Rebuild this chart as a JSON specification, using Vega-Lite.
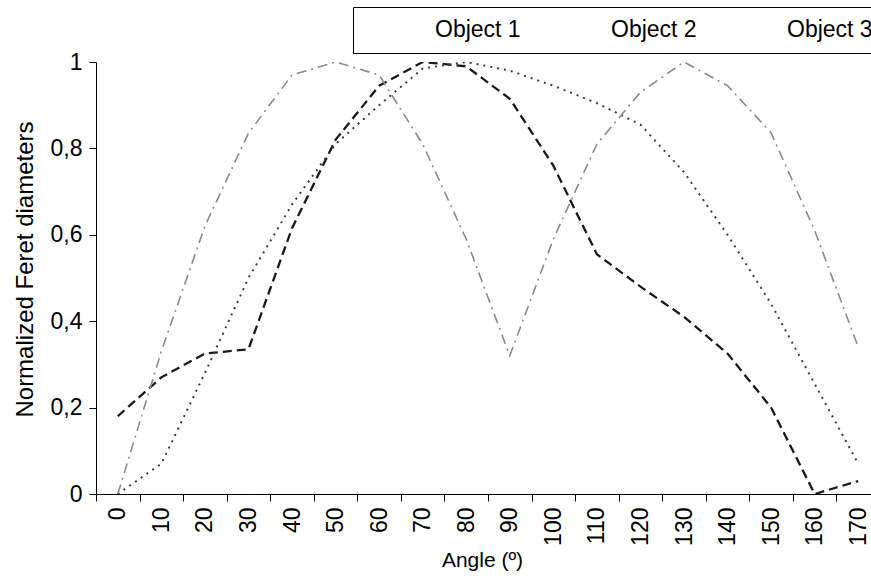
{
  "$schema": "https://vega.github.io/schema/vega-lite/v6.json",
  "autosize": {"type": "none"},
  "width": 775,
  "height": 432,
  "padding": {"left": 96, "top": 62, "right": 0, "bottom": 90},
  "background": "white",
  "config": {
    "view": {"stroke": null},
    "font": "Liberation Sans",
    "axis": {
      "labelFont": "Liberation Sans",
      "titleFont": "Liberation Sans",
      "labelFontSize": 23,
      "titleFontSize": 23,
      "titleFontWeight": "normal",
      "labelColor": "#000",
      "titleColor": "#000",
      "domainColor": "#000",
      "tickColor": "#000",
      "tickSize": 7,
      "grid": false
    },
    "legend": {
      "labelFont": "Liberation Sans",
      "labelFontSize": 23,
      "labelColor": "#000"
    }
  },
  "data": {
    "values": [
      {"angle": 0, "series": "Object 1", "value": 0.18},
      {"angle": 10, "series": "Object 1", "value": 0.27},
      {"angle": 20, "series": "Object 1", "value": 0.325},
      {"angle": 30, "series": "Object 1", "value": 0.335},
      {"angle": 40, "series": "Object 1", "value": 0.615},
      {"angle": 50, "series": "Object 1", "value": 0.82},
      {"angle": 60, "series": "Object 1", "value": 0.945},
      {"angle": 70, "series": "Object 1", "value": 1.0},
      {"angle": 80, "series": "Object 1", "value": 0.99},
      {"angle": 90, "series": "Object 1", "value": 0.915},
      {"angle": 100, "series": "Object 1", "value": 0.76},
      {"angle": 110, "series": "Object 1", "value": 0.555},
      {"angle": 120, "series": "Object 1", "value": 0.48},
      {"angle": 130, "series": "Object 1", "value": 0.41},
      {"angle": 140, "series": "Object 1", "value": 0.325},
      {"angle": 150, "series": "Object 1", "value": 0.2},
      {"angle": 160, "series": "Object 1", "value": 0.0},
      {"angle": 170, "series": "Object 1", "value": 0.03},
      {"angle": 0, "series": "Object 2", "value": 0.0},
      {"angle": 10, "series": "Object 2", "value": 0.07},
      {"angle": 20, "series": "Object 2", "value": 0.28},
      {"angle": 30, "series": "Object 2", "value": 0.5},
      {"angle": 40, "series": "Object 2", "value": 0.67},
      {"angle": 50, "series": "Object 2", "value": 0.81},
      {"angle": 60, "series": "Object 2", "value": 0.9},
      {"angle": 70, "series": "Object 2", "value": 0.985},
      {"angle": 80, "series": "Object 2", "value": 1.0},
      {"angle": 90, "series": "Object 2", "value": 0.98},
      {"angle": 100, "series": "Object 2", "value": 0.945},
      {"angle": 110, "series": "Object 2", "value": 0.905},
      {"angle": 120, "series": "Object 2", "value": 0.855},
      {"angle": 130, "series": "Object 2", "value": 0.745},
      {"angle": 140, "series": "Object 2", "value": 0.6},
      {"angle": 150, "series": "Object 2", "value": 0.44},
      {"angle": 160, "series": "Object 2", "value": 0.255},
      {"angle": 170, "series": "Object 2", "value": 0.07},
      {"angle": 0, "series": "Object 3", "value": 0.0},
      {"angle": 10, "series": "Object 3", "value": 0.33},
      {"angle": 20, "series": "Object 3", "value": 0.62},
      {"angle": 30, "series": "Object 3", "value": 0.835},
      {"angle": 40, "series": "Object 3", "value": 0.97},
      {"angle": 50, "series": "Object 3", "value": 1.0},
      {"angle": 60, "series": "Object 3", "value": 0.97},
      {"angle": 70, "series": "Object 3", "value": 0.81},
      {"angle": 80, "series": "Object 3", "value": 0.59},
      {"angle": 90, "series": "Object 3", "value": 0.32},
      {"angle": 100, "series": "Object 3", "value": 0.59},
      {"angle": 110, "series": "Object 3", "value": 0.81},
      {"angle": 120, "series": "Object 3", "value": 0.93},
      {"angle": 130, "series": "Object 3", "value": 1.0},
      {"angle": 140, "series": "Object 3", "value": 0.945},
      {"angle": 150, "series": "Object 3", "value": 0.836},
      {"angle": 160, "series": "Object 3", "value": 0.61},
      {"angle": 170, "series": "Object 3", "value": 0.34}
    ]
  },
  "mark": {"type": "line", "clip": true},
  "encoding": {
    "x": {
      "field": "angle",
      "type": "ordinal",
      "sort": "ascending",
      "bandPosition": 0.5,
      "scale": {"type": "band", "paddingInner": 0, "paddingOuter": 0, "range": [0, 784]},
      "axis": {
        "title": "Angle (º)",
        "titleFontSize": 21,
        "titleX": 386,
        "labelAngle": -90,
        "tickBand": "extent",
        "labelPadding": 6,
        "titlePadding": 4
      }
    },
    "y": {
      "field": "value",
      "type": "quantitative",
      "scale": {"domain": [0, 1], "nice": false, "zero": true},
      "axis": {
        "title": "Normalized Feret diameters",
        "titleFontSize": 24,
        "titleY": 207,
        "values": [0, 0.2, 0.4, 0.6, 0.8, 1],
        "labelExpr": "datum.value == 0 ? '0' : datum.value == 1 ? '1' : replace(format(datum.value, '.1f'), '.', ',')",
        "labelPadding": 7,
        "titlePadding": 13
      }
    },
    "color": {
      "field": "series",
      "type": "nominal",
      "scale": {"domain": ["Object 1", "Object 2", "Object 3"], "range": ["#1a1a1a", "#3a3a3a", "#8a8a8a"]},
      "legend": {
        "title": null,
        "orient": "none",
        "direction": "horizontal",
        "legendX": 257,
        "legendY": -55,
        "strokeColor": "#000",
        "padding": 11,
        "symbolType": "stroke",
        "symbolSize": 100,
        "symbolOpacity": 0,
        "labelOffset": 48,
        "columnPadding": 19
      }
    },
    "strokeDash": {
      "field": "series",
      "type": "nominal",
      "scale": {"domain": ["Object 1", "Object 2", "Object 3"], "range": [[9, 5], [2, 5], [10, 5, 2, 5]]},
      "legend": null
    },
    "strokeWidth": {
      "field": "series",
      "type": "nominal",
      "scale": {"domain": ["Object 1", "Object 2", "Object 3"], "range": [2.3, 1.6, 1.6]},
      "legend": null
    }
  }
}
